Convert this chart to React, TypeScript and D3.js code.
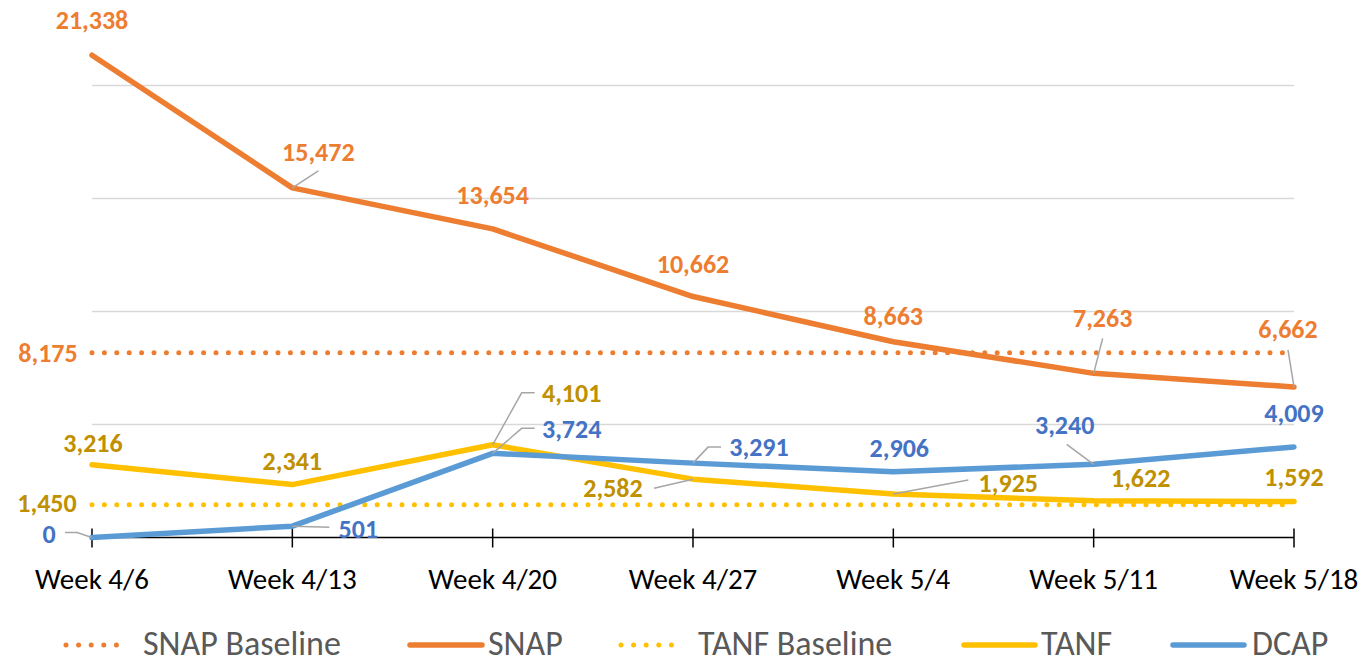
import React from "react";
import * as d3 from "d3";

// weekly application counts
const weeks = ["Week 4/6", "Week 4/13", "Week 4/20", "Week 4/27", "Week 5/4", "Week 5/11", "Week 5/18"];
const snap = [21338, 15472, 13654, 10662, 8663, 7263, 6662];
const tanf = [3216, 2341, 4101, 2582, 1925, 1622, 1592];
const dcap = [0, 501, 3724, 3291, 2906, 3240, 4009];
const snapBaseline = 8175;
const tanfBaseline = 1450;
const gridTicks = [5000, 10000, 15000, 20000];

const ORANGE = "#ED7D31";
const YELLOW = "#FFC000";
const BLUE = "#5B9BD5";
const GOLD_TEXT = "#BF9000";
const BLUE_TEXT = "#4472C4";
const FONT = "Carlito, Calibri, Lato, sans-serif";
const LBL_SIZE = 26;

type Lbl = { dx: number; dy: number; leader?: number[][] };

// label placement relative to its point (text centre)
const snapLabels: Lbl[] = [
  { dx: 0, dy: -35 },
  { dx: 26, dy: -36, leader: [[0, 0], [26, -17]] },
  { dx: 0, dy: -34 },
  { dx: 0, dy: -33 },
  { dx: 0, dy: -26 },
  { dx: 9, dy: -55, leader: [[0, 0], [9, -35]] },
  { dx: -6, dy: -58, leader: [[0, 0], [-6, -37]] },
];
const tanfLabels: Lbl[] = [
  { dx: 1, dy: -22 },
  { dx: 0, dy: -24 },
  { dx: 79, dy: -52, leader: [[0, 0], [29, -52], [42, -52]] },
  { dx: -80, dy: 9, leader: [[0, 0], [-39, 9]] },
  { dx: 115, dy: -11, leader: [[0, 0], [75, -14]] },
  { dx: 47, dy: -23 },
  { dx: 0, dy: -25 },
];
const dcapLabels: Lbl[] = [
  { dx: -43, dy: -4, leader: [[0, 0], [-15, -5], [-27, -5]] },
  { dx: 66, dy: 3, leader: [[0, 0], [37, 1]] },
  { dx: 79, dy: -24, leader: [[0, 0], [29, -25], [42, -25]] },
  { dx: 66, dy: -16, leader: [[0, 0], [15, -16], [28, -16]] },
  { dx: 6, dy: -24 },
  { dx: -29, dy: -39, leader: [[0, 0], [-27, -20]] },
  { dx: 0, dy: -34 },
];

const W = 1368;
const H = 664;

const x = d3.scalePoint<string>().domain(weeks).range([92, 1294]);
const y = d3.scaleLinear().domain([0, 20000]).range([537.5, 85.5]);
const fmt = d3.format(",");

const lineGen = d3
  .line<number>()
  .x((_, i) => x(weeks[i])!)
  .y((d) => y(d));

const leaderGen = d3.line<number[]>().x((p) => p[0]).y((p) => p[1]);

const dots = { strokeDasharray: "0 12.4", strokeLinecap: "round" as const, strokeWidth: 5 };

function Labels({ values, layout, color }: { values: number[]; layout: Lbl[]; color: string }) {
  return (
    <g>
      {values.map((v, i) => {
        const px = x(weeks[i])!;
        const py = y(v);
        const l = layout[i];
        return (
          <g key={i}>
            {l.leader && (
              <path
                d={leaderGen(l.leader.map((p) => [px + p[0], py + p[1]]))!}
                fill="none"
                stroke="#A6A6A6"
                strokeWidth={1.5}
              />
            )}
            <text
              x={px + l.dx}
              y={py + l.dy}
              textAnchor="middle"
              dominantBaseline="central"
              fill={color}
              fontWeight="bold"
              fontSize={LBL_SIZE}
            >
              {fmt(v)}
            </text>
          </g>
        );
      })}
    </g>
  );
}

const legend = [
  { name: "SNAP Baseline", color: ORANGE, dotted: true, x0: 66, x1: 129, tx: 143 },
  { name: "SNAP", color: ORANGE, dotted: false, x0: 410, x1: 482, tx: 488 },
  { name: "TANF Baseline", color: YELLOW, dotted: true, x0: 621, x1: 684, tx: 698 },
  { name: "TANF", color: YELLOW, dotted: false, x0: 964, x1: 1035, tx: 1041 },
  { name: "DCAP", color: BLUE, dotted: false, x0: 1173, x1: 1244, tx: 1252 },
];

export default function App() {
  const [x0, x1] = x.range();
  return (
    <svg
      width={W}
      height={H}
      style={{ position: "absolute", left: 0, top: 0, background: "#fff" }}
      fontFamily={FONT}
    >
      {gridTicks.map((t) => (
        <line key={t} x1={x0} x2={x1} y1={y(t)} y2={y(t)} stroke="#D9D9D9" strokeWidth={1.5} />
      ))}
      <line x1={x0} x2={x1} y1={y(0)} y2={y(0)} stroke="#000" strokeWidth={1.5} />
      {weeks.map((w) => (
        <g key={w}>
          <line x1={x(w)} x2={x(w)} y1={y(0) - 9} y2={y(0) + 10} stroke="#000" strokeWidth={1.5} />
          <text x={x(w)} y={589} textAnchor="middle" fontSize={29} fill="#000">
            {w}
          </text>
        </g>
      ))}

      <line x1={x0} x2={x1} y1={y(snapBaseline)} y2={y(snapBaseline)} stroke={ORANGE} {...dots} />
      <path d={lineGen(snap)!} fill="none" stroke={ORANGE} strokeWidth={5.5} strokeLinejoin="round" strokeLinecap="round" />
      <line x1={x0} x2={x1} y1={y(tanfBaseline)} y2={y(tanfBaseline)} stroke={YELLOW} {...dots} />
      <path d={lineGen(tanf)!} fill="none" stroke={YELLOW} strokeWidth={5.5} strokeLinejoin="round" strokeLinecap="round" />
      <path d={lineGen(dcap)!} fill="none" stroke={BLUE} strokeWidth={5.5} strokeLinejoin="round" strokeLinecap="round" />

      <text x={x0 - 44} y={y(snapBaseline)} textAnchor="middle" dominantBaseline="central" fill={ORANGE} fontWeight="bold" fontSize={LBL_SIZE}>
        {fmt(snapBaseline)}
      </text>
      <text x={x0 - 45} y={y(tanfBaseline) - 2} textAnchor="middle" dominantBaseline="central" fill={GOLD_TEXT} fontWeight="bold" fontSize={LBL_SIZE}>
        {fmt(tanfBaseline)}
      </text>
      <Labels values={snap} layout={snapLabels} color={ORANGE} />
      <Labels values={tanf} layout={tanfLabels} color={GOLD_TEXT} />
      <Labels values={dcap} layout={dcapLabels} color={BLUE_TEXT} />

      {legend.map((l) => (
        <g key={l.name}>
          {l.dotted ? (
            <line x1={l.x0} x2={l.x1} y1={645} y2={645} stroke={l.color} strokeWidth={5} strokeDasharray="0 12.6" strokeLinecap="round" />
          ) : (
            <line x1={l.x0} x2={l.x1} y1={645} y2={645} stroke={l.color} strokeWidth={5.5} strokeLinecap="round" />
          )}
          <text x={l.tx} y={655} fontSize={34} fill="#595959">
            {l.name}
          </text>
        </g>
      ))}
    </svg>
  );
}
